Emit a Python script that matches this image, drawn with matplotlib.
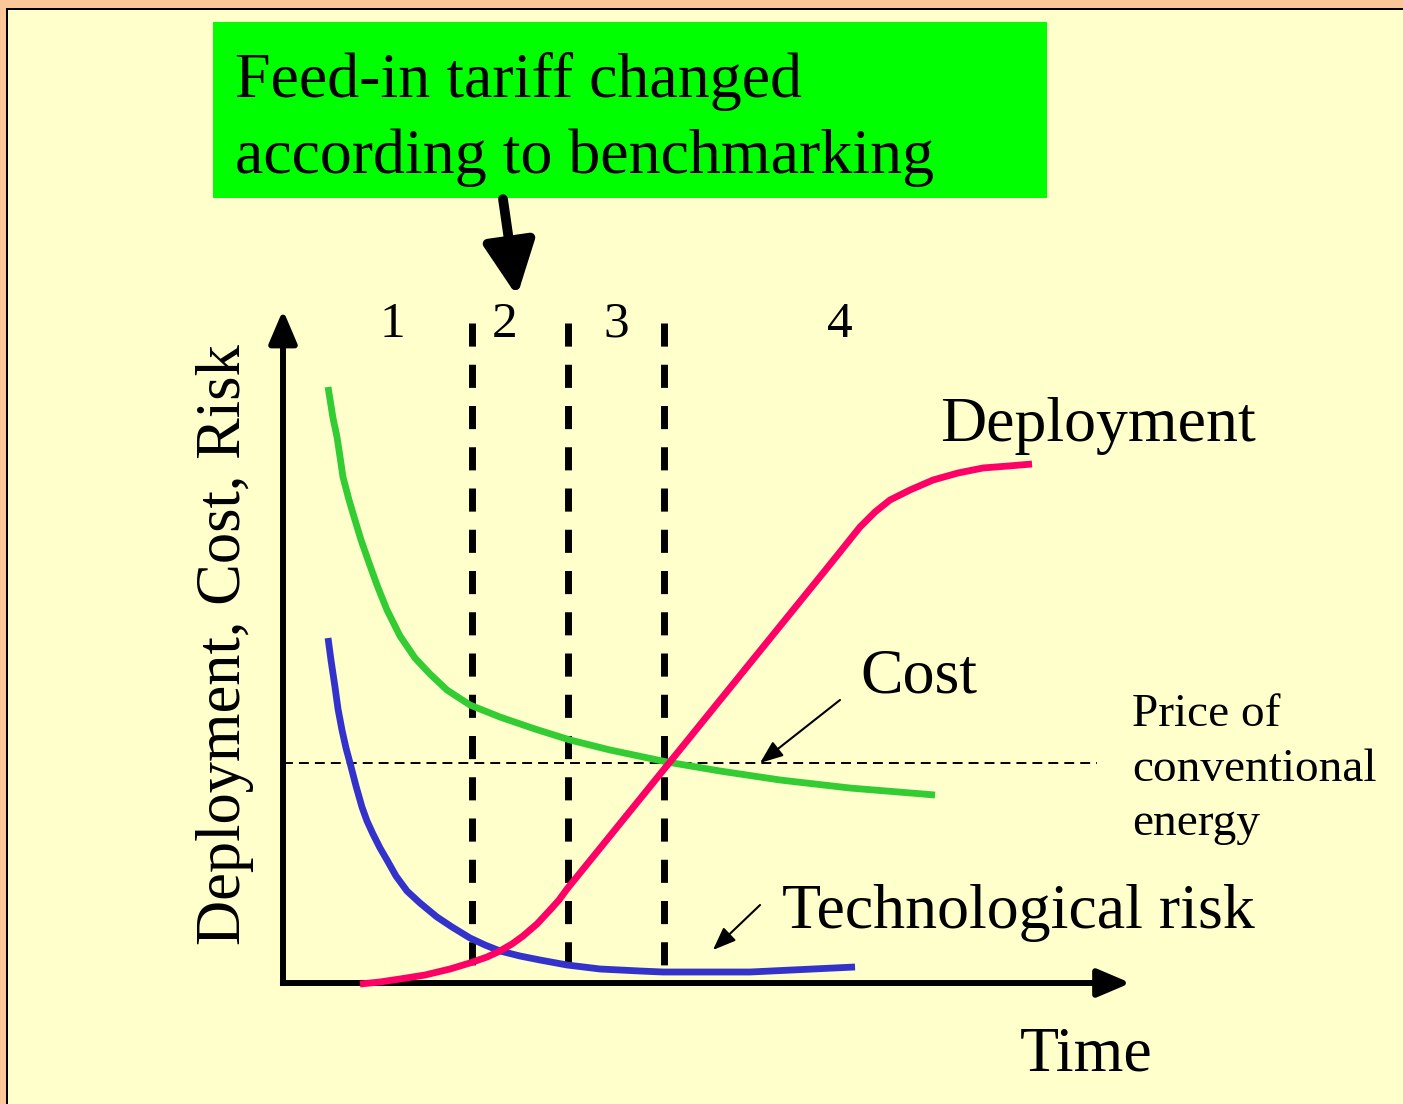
import matplotlib

matplotlib.use("Agg")
import matplotlib.pyplot as plt
from matplotlib.patches import Rectangle

plt.rcParams["font.family"] = ["Liberation Serif", "DejaVu Serif"]

# -- Chart data (time on x, 0..100; level on y, 0..100)
cost_t = [5.36, 5.95, 6.43, 6.79, 7.14, 7.86, 8.57, 9.29, 10.12, 11.19, 12.38,
          13.93, 15.71, 17.50, 19.52, 22.26, 25.83, 30.00, 34.17, 38.93, 45.71,
          52.02, 59.17, 67.50, 77.62]
cost_v = [88.96, 84.33, 81.49, 78.51, 75.52, 72.09, 69.10, 66.12, 63.13, 59.40,
          55.67, 51.79, 48.51, 46.12, 43.73, 41.49, 39.70, 37.91, 36.27, 34.78,
          32.99, 31.64, 30.30, 29.10, 28.06]

risk_t = [5.36, 5.71, 6.19, 6.55, 7.02, 7.50, 7.98, 8.69, 9.40, 10.00, 10.71,
          11.55, 12.38, 13.45, 14.76, 16.31, 18.33, 20.12, 22.26, 24.05, 25.83,
          28.21, 30.60, 33.81, 37.74, 42.50, 45.24, 55.60, 68.10]
risk_v = [51.49, 48.21, 44.18, 40.90, 37.76, 35.07, 32.84, 29.40, 26.27, 24.18,
          22.24, 20.15, 18.36, 15.97, 13.73, 11.94, 9.85, 8.36, 6.72, 5.67, 4.78,
          4.03, 3.43, 2.69, 2.09, 1.79, 1.64, 1.64, 2.39]

deploy_t = [9.17, 11.55, 13.93, 16.90, 19.88, 22.26, 24.29, 25.83, 27.26, 28.57,
            30.24, 31.79, 32.86, 33.81, 64.29, 66.31, 68.69, 70.48, 72.26, 74.64,
            77.38, 80.36, 83.33, 86.31, 89.17]
deploy_v = [-0.15, 0.15, 0.60, 1.19, 2.09, 2.99, 3.88, 4.78, 5.82, 7.01, 8.81,
            10.90, 12.39, 14.03, 61.19, 64.33, 68.06, 70.30, 72.09, 73.58, 75.07,
            76.12, 76.87, 77.16, 77.46]

phase_bounds = [22.50, 33.93, 45.36]
phase_labels = ["1", "2", "3", "4"]
phase_label_t = [12.98, 26.43, 39.64, 66.31]
conventional_price = 32.84

# -- Colours
BG = "#FFFFCC"
FRAME = "#FAC898"
GREEN = "#33CC33"
BLUE = "#3333CC"
RED = "#FF0066"
BOX = "#00FF00"

# pixel layout: origin of the chart axes and scale (px per unit)
W, H = 1403, 1104
OX, OY = 283, 983
SX, SY = 8.4, 6.7

fig = plt.figure(figsize=(W / 100, H / 100), dpi=100, facecolor=BG)
ax = fig.add_axes([0, 0, 1, 1])
ax.set_xlim(-OX / SX, (W - OX) / SX)
ax.set_ylim((OY - H) / SY, OY / SY)
ax.axis("off")

# frame at top and left edge
fig.add_artist(Rectangle((0, 1 - 8 / H), 1, 8 / H, transform=fig.transFigure,
                         facecolor=FRAME, edgecolor="none"))
fig.add_artist(Rectangle((0, 0), 6 / W, 1, transform=fig.transFigure,
                         facecolor=FRAME, edgecolor="none"))
fig.add_artist(Rectangle((6 / W, 0), 2 / W, 1 - 8 / H, transform=fig.transFigure,
                         facecolor="black", edgecolor="none"))
fig.add_artist(Rectangle((6 / W, 1 - 10 / H), 1, 2 / H, transform=fig.transFigure,
                         facecolor="black", edgecolor="none"))

# axes with arrow heads
axis_style = dict(arrowstyle="-|>,head_length=2.0,head_width=0.85", lw=4.3,
                  color="black", shrinkA=0, shrinkB=0, mutation_scale=10,
                  capstyle="butt")
ax.annotate("", xy=(0, 100.45), xytext=(0, -0.45), arrowprops=axis_style)
ax.annotate("", xy=(100.9, 0), xytext=(-0.36, 0), arrowprops=axis_style)

# phase boundaries
for t in phase_bounds:
    ax.plot([t, t], [98.5, 2.7], color="black", lw=5, dashes=(3.33, 2.61),
            solid_capstyle="butt", dash_capstyle="butt")
for t, lab in zip(phase_label_t, phase_labels):
    ax.text(t, 96.42, lab, fontsize=37, ha="center", va="baseline")

# price of conventional energy
ax.plot([0, 96.9], [conventional_price, conventional_price], color="black",
        lw=1.4, dashes=(5.1, 3.1))

# curves
curve_style = dict(lw=4.9, solid_capstyle="butt", solid_joinstyle="round")
ax.plot(cost_t, cost_v, color=GREEN, zorder=3, **curve_style)
ax.plot(risk_t, risk_v, color=BLUE, zorder=3, **curve_style)
ax.plot(deploy_t, deploy_v, color=RED, zorder=4, **curve_style)

# labels
ax.text(78.21, 80.90, "Deployment", fontsize=46, va="baseline")
ax.text(68.69, 43.43, "Cost", fontsize=46, va="baseline")
ax.text(59.40, 8.21, "Technological risk", fontsize=46, va="baseline")
ax.text(87.74, -12.99, "Time", fontsize=46, va="baseline")
for v, line in zip([38.36, 30.15, 22.09], ["Price of", "conventional", "energy"]):
    ax.text(101.07, v, line, fontsize=34, va="baseline")
ax.text(-5.12, 5.67, "Deployment, Cost, Risk", fontsize=45, rotation=90,
        rotation_mode="anchor", ha="left", va="baseline")

small_arrow = dict(arrowstyle="-|>,head_length=1.4,head_width=0.55", lw=1.5,
                   color="black", shrinkA=0, shrinkB=0, mutation_scale=10)
ax.annotate("", xy=(56.79, 32.84), xytext=(66.31, 42.24), arrowprops=small_arrow)
ax.annotate("", xy=(51.19, 4.93), xytext=(56.79, 11.64), arrowprops=small_arrow)

# feed-in tariff box
ax.add_patch(Rectangle((-8.33, 117.16), 99.28, 26.27, facecolor=BOX,
                       edgecolor="none", zorder=2))
ax.text(-5.71, 132.24, "Feed-in tariff changed", fontsize=46, va="baseline", zorder=3)
ax.text(-5.71, 120.90, "according to benchmarking", fontsize=46, va="baseline",
        zorder=3)
ax.annotate("", xy=(27.86, 102.5), xytext=(26.19, 117.0),
            arrowprops=dict(arrowstyle="-|>,head_length=2.7,head_width=1.3",
                            lw=7, color="black", shrinkA=0, shrinkB=0,
                            mutation_scale=12))

fig.savefig("out.png", dpi=100, facecolor=BG)
